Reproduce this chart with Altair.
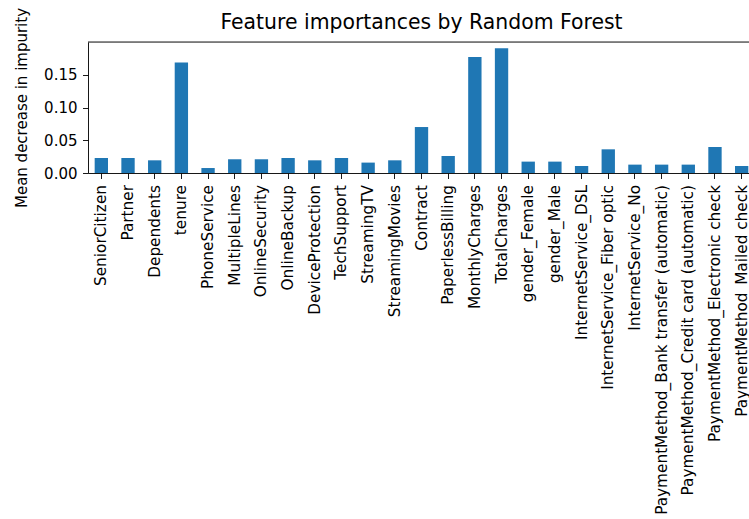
import altair as alt
import pandas as pd

features = [
    "SeniorCitizen", "Partner", "Dependents", "tenure", "PhoneService",
    "MultipleLines", "OnlineSecurity", "OnlineBackup", "DeviceProtection",
    "TechSupport", "StreamingTV", "StreamingMovies", "Contract",
    "PaperlessBilling", "MonthlyCharges", "TotalCharges", "gender_Female",
    "gender_Male", "InternetService_DSL", "InternetService_Fiber optic",
    "InternetService_No", "PaymentMethod_Bank transfer (automatic)",
    "PaymentMethod_Credit card (automatic)", "PaymentMethod_Electronic check",
    "PaymentMethod_Mailed check",
]
importances = [
    0.0229, 0.0229, 0.0194, 0.1688, 0.0076,
    0.0210, 0.0210, 0.0229, 0.0194,
    0.0229, 0.0159, 0.0194, 0.0703,
    0.0260, 0.1774, 0.1908, 0.0174,
    0.0174, 0.0107, 0.0362,
    0.0128, 0.0128,
    0.0128, 0.0398,
    0.0107,
]
y_ticks = [0.0, 0.05, 0.10, 0.15]

df = pd.DataFrame({"feature": features, "importance": importances})

FONT = "DejaVu Sans"
y_max = max(importances) * 1.05
X_RANGE = 667

bars = alt.Chart(df).mark_bar(color="#1f77b4").encode(
    x=alt.X(
        "feature:N",
        sort=features,
        scale=alt.Scale(range=[0, X_RANGE], paddingInner=0.5, paddingOuter=0.25),
        axis=alt.Axis(
            title=None, labelAngle=-90, tickSize=5.5, labelPadding=6,
            domainColor="black", tickColor="black", labelColor="black",
            labelFont=FONT, labelFontSize=15.3, domainWidth=0.9, tickWidth=0.9,
            labelOverlap=False, labelLimit=0,
        ),
    ),
    y=alt.Y(
        "importance:Q",
        scale=alt.Scale(domain=[0, y_max], nice=False, zero=True),
        axis=alt.Axis(
            title="Mean decrease in impurity", values=y_ticks, format=".2f",
            grid=False, tickSize=5.5, labelPadding=5.5,
            domainColor="black", tickColor="black", labelColor="black",
            labelFont=FONT, labelFontSize=15, titleFont=FONT,
            titleFontSize=15, titleFontWeight="normal", titleColor="black",
            titleAngle=-90, titleX=-61.5, titleY=65.5,
            titleAlign="center", titleBaseline="alphabetic",
            domainWidth=0.9, tickWidth=0.9,
        ),
    ),
)

top_spine = alt.Chart(pd.DataFrame({"a": [0]})).mark_rule(
    color="black", strokeWidth=0.9
).encode(x=alt.value(0), x2=alt.value(X_RANGE), y=alt.value(0))

chart = alt.layer(bars, top_spine).properties(
    width=661,
    height=131,
    title=alt.TitleParams(
        "Feature importances by Random Forest",
        font=FONT, fontSize=20.4, fontWeight="normal", color="black",
        anchor="middle", frame="group", offset=7, baseline="bottom",
        dx=(X_RANGE - 661) / 2, dy=53,
    ),
    autosize=alt.AutoSizeParams(type="none"),
    padding={"left": 88, "top": 42, "right": 0, "bottom": 346},
).configure_view(stroke=None).configure(background="white")

chart.save("out.html", embed_options={"renderer": "svg", "actions": False})
